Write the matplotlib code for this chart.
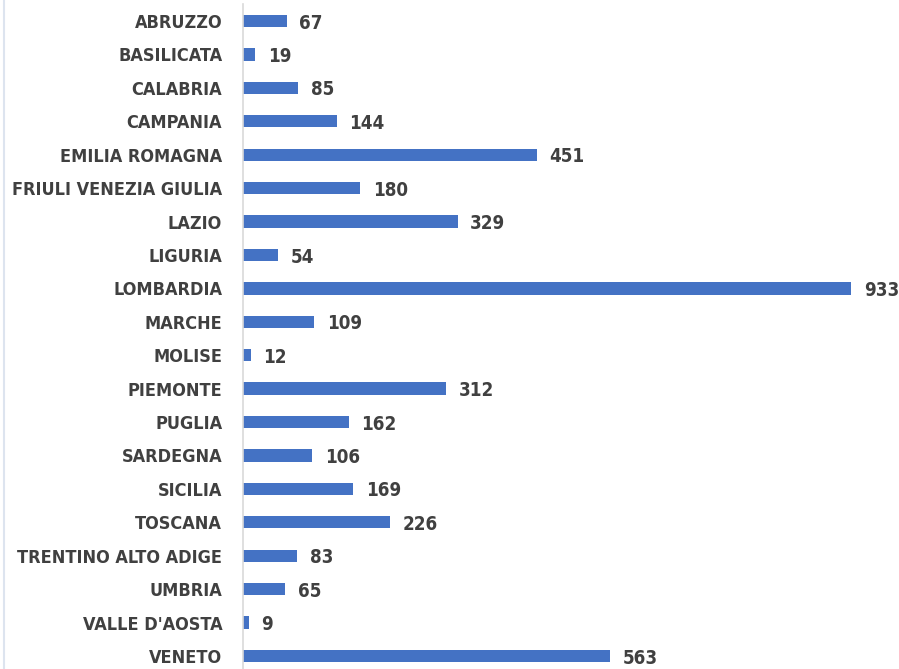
import matplotlib
matplotlib.use("Agg")
import matplotlib.pyplot as plt

# Data
regions = ["ABRUZZO", "BASILICATA", "CALABRIA", "CAMPANIA", "EMILIA ROMAGNA",
           "FRIULI VENEZIA GIULIA", "LAZIO", "LIGURIA", "LOMBARDIA", "MARCHE",
           "MOLISE", "PIEMONTE", "PUGLIA", "SARDEGNA", "SICILIA", "TOSCANA",
           "TRENTINO ALTO ADIGE", "UMBRIA", "VALLE D'AOSTA", "VENETO"]
counts = [67, 19, 85, 144, 451, 180, 329, 54, 933, 109,
          12, 312, 162, 106, 169, 226, 83, 65, 9, 563]

plt.rcParams["font.family"] = ["DejaVu Sans"]

fig = plt.figure(figsize=(8.99, 6.69), dpi=100)
# faint frame line at the left edge
fig.add_artist(plt.Line2D([3.5 / 899, 3.5 / 899], [0, 1], color="#DDE4EF", lw=1.5))

ax = fig.add_axes([243 / 899, -0.0055, 652 / 899, 1 - 4.3 / 669 + 0.0055])

pos = list(range(len(regions)))
ax.barh(pos, counts, height=0.37, color="#4472C4")

for y, v in zip(pos, counts):
    ax.annotate(str(v), (v, y), xytext=(9, -1.5), textcoords="offset points",
                va="center", ha="left", fontsize=13.5, fontweight="bold",
                fontstretch="condensed", color="#404040")

ax.set_yticks(pos)
ax.set_yticklabels(regions, fontsize=13, fontweight="bold",
                   fontstretch="condensed", color="#404040")
ax.tick_params(axis="y", length=0, pad=15)
ax.set_ylim(len(regions) - 0.5, -0.5)
ax.set_xlim(0, 1000)
ax.set_xticks([])

for s in ["top", "right", "bottom"]:
    ax.spines[s].set_visible(False)
ax.spines["left"].set_color("#D9D9D9")
ax.spines["left"].set_linewidth(1.2)

fig.savefig("out.png", dpi=100)
